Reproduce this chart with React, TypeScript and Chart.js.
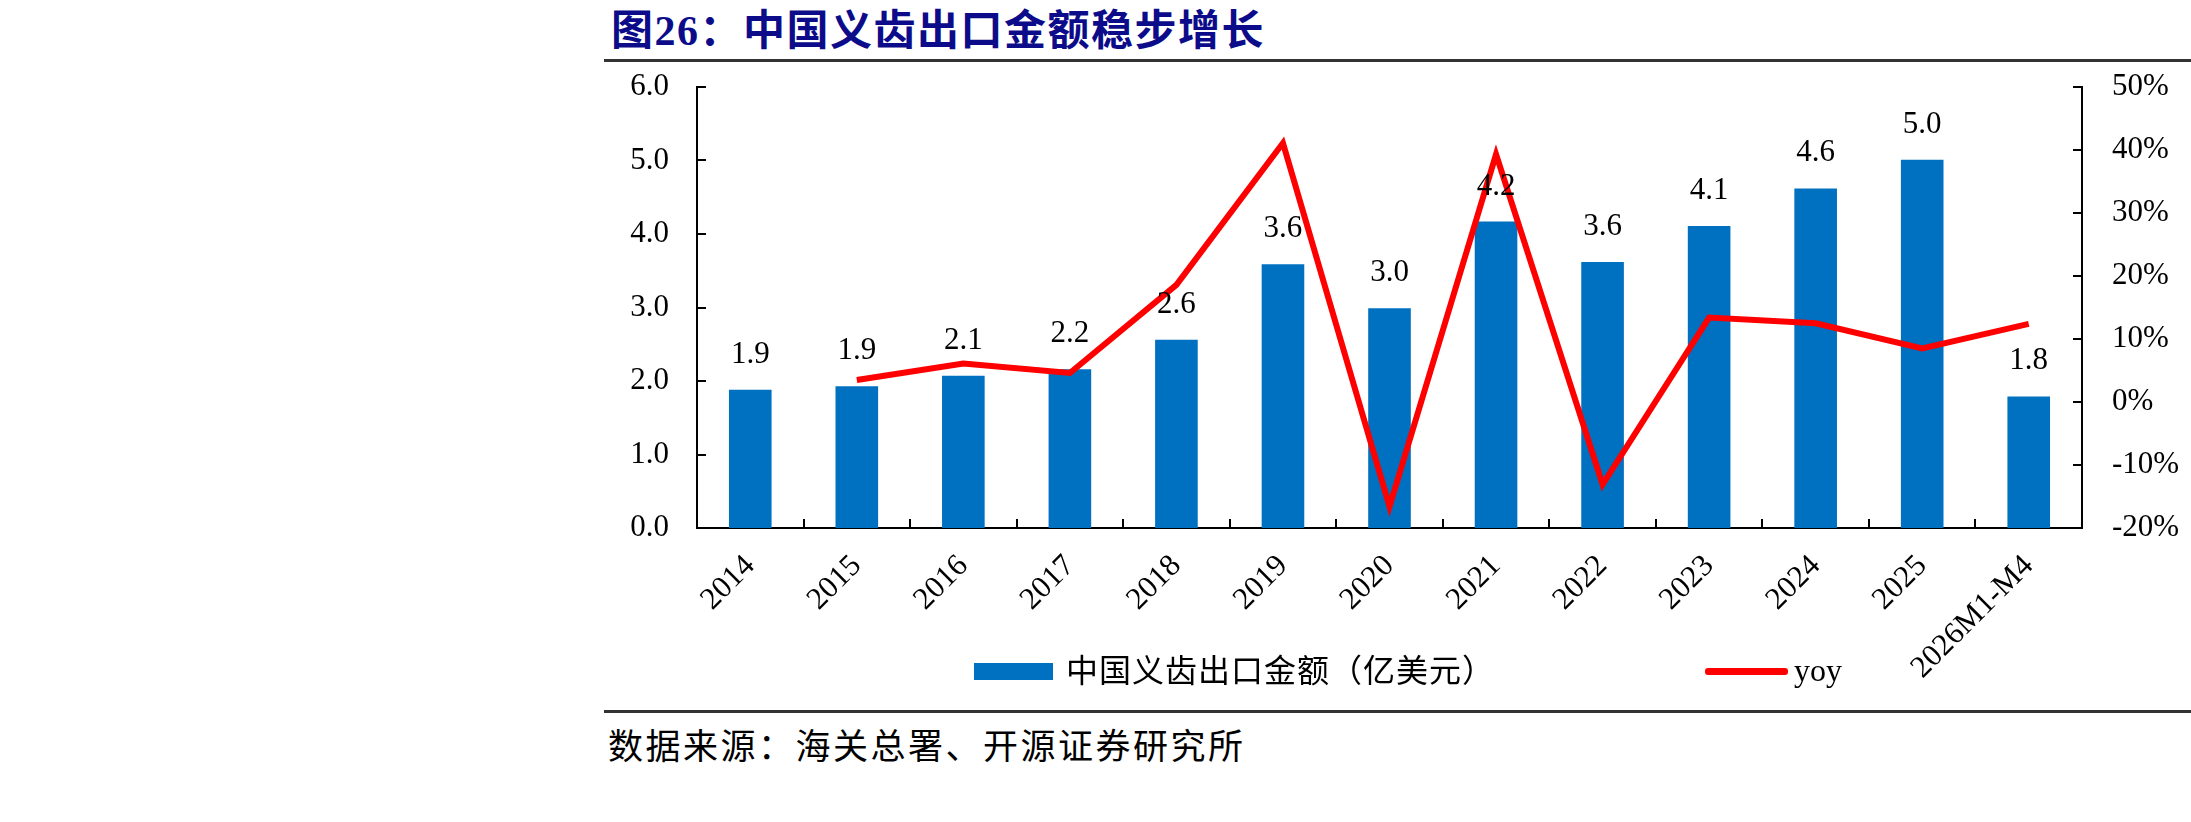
import { useEffect, useRef } from "react";
import Chart from "chart.js/auto";

const years = ["2014", "2015", "2016", "2017", "2018", "2019", "2020", "2021", "2022", "2023", "2024", "2025", "2026M1-M4"];
// 中国义齿出口金额（亿美元）
const exportValues = [1.88, 1.93, 2.07, 2.16, 2.56, 3.59, 2.99, 4.17, 3.62, 4.11, 4.62, 5.01, 1.79];
// yoy, %
const yoyValues = [null, 3.5, 6.1, 4.6, 18.6, 41.1, -16.6, 39.3, -13.1, 13.4, 12.5, 8.5, 12.4];

const serif = '"Liberation Serif", "Noto Sans CJK SC", serif';
const cjk = '"Liberation Serif", "Noto Sans CJK SC", sans-serif';

// inward tick marks, like the excel original
const tickMarks = {
  id: "tickMarks",
  afterDatasetsDraw(chart: any) {
    const { ctx, chartArea, scales } = chart;
    const len = 9;
    ctx.save();
    ctx.strokeStyle = "#000";
    ctx.lineWidth = 2;
    ctx.beginPath();
    scales.y.ticks.forEach((t: any) => {
      const y = Math.round(scales.y.getPixelForValue(t.value));
      ctx.moveTo(chartArea.left, y);
      ctx.lineTo(chartArea.left + len, y);
    });
    scales.y1.ticks.forEach((t: any) => {
      const y = Math.round(scales.y1.getPixelForValue(t.value));
      ctx.moveTo(chartArea.right, y);
      ctx.lineTo(chartArea.right - len, y);
    });
    const n = scales.x.ticks.length;
    for (let i = 0; i < n - 1; i++) {
      const x = Math.round((scales.x.getPixelForTick(i) + scales.x.getPixelForTick(i + 1)) / 2);
      ctx.moveTo(x, chartArea.bottom);
      ctx.lineTo(x, chartArea.bottom - len);
    }
    ctx.stroke();
    ctx.restore();
  },
};

// value labels above the bars
const barLabels = {
  id: "barLabels",
  afterDatasetsDraw(chart: any) {
    const { ctx } = chart;
    const meta = chart.getDatasetMeta(0);
    ctx.save();
    ctx.fillStyle = "#000";
    ctx.font = `31px ${serif}`;
    ctx.textAlign = "center";
    ctx.textBaseline = "alphabetic";
    meta.data.forEach((bar: any, i: number) => {
      ctx.fillText(exportValues[i].toFixed(1), bar.x, bar.y - 27);
    });
    ctx.restore();
  },
};

// keep the label padding from shrinking the plot vertically
const noEdgePadding = (s: any) => {
  s.paddingTop = 0;
  s.paddingBottom = 0;
};

export default function App() {
  const chartRef = useRef<HTMLCanvasElement>(null);
  const chartInstanceRef = useRef<Chart | null>(null);

  useEffect(() => {
    if (!chartRef.current) return;
    if (chartInstanceRef.current) {
      chartInstanceRef.current.destroy();
    }
    const ctx = chartRef.current.getContext("2d");
    if (!ctx) return;

    chartInstanceRef.current = new Chart(ctx, {
      type: "bar",
      data: {
        labels: years,
        datasets: [
          {
            type: "bar",
            label: "中国义齿出口金额（亿美元）",
            data: exportValues,
            backgroundColor: "#0070C0",
            yAxisID: "y",
            barPercentage: 0.4,
            categoryPercentage: 1,
            order: 2,
          },
          {
            type: "line",
            label: "yoy",
            data: yoyValues,
            borderColor: "#FF0000",
            borderWidth: 6,
            pointRadius: 0,
            tension: 0,
            yAxisID: "y1",
            order: 1,
          } as any,
        ],
      },
      options: {
        responsive: false,
        animation: false,
        layout: { padding: { top: 17, left: 0, right: 0, bottom: 0 } },
        plugins: {
          legend: { display: false },
          tooltip: { enabled: false },
        },
        scales: {
          x: {
            grid: { display: false, drawTicks: false },
            border: { display: true, color: "#000", width: 2 },
            ticks: {
              color: "#000",
              font: { family: serif, size: 31 },
              minRotation: 45,
              maxRotation: 45,
              autoSkip: false,
              padding: 20,
            },
            afterFit: (s: any) => {
              s.height = 172;
            },
          },
          y: {
            position: "left",
            min: 0,
            max: 6,
            grid: { display: false, drawTicks: false },
            border: { display: true, color: "#000", width: 2 },
            ticks: {
              stepSize: 1,
              color: "#000",
              font: { family: serif, size: 31 },
              padding: 28,
              callback: (v: any) => Number(v).toFixed(1),
            },
            afterFit: (s: any) => {
              s.width = 97;
              noEdgePadding(s);
            },
          },
          y1: {
            position: "right",
            min: -20,
            max: 50,
            grid: { display: false, drawTicks: false },
            border: { display: true, color: "#000", width: 2 },
            ticks: {
              stepSize: 10,
              color: "#000",
              font: { family: serif, size: 31 },
              padding: 30,
              callback: (v: any) => `${v}%`,
            },
            afterFit: (s: any) => {
              s.width = 109;
              noEdgePadding(s);
            },
          },
        },
      },
      plugins: [tickMarks, barLabels],
    });

    return () => {
      if (chartInstanceRef.current) {
        chartInstanceRef.current.destroy();
        chartInstanceRef.current = null;
      }
    };
  }, []);

  return (
    <div style={{ position: "absolute", left: 0, top: 0, width: 2191, height: 822, background: "#fff", overflow: "hidden" }}>
      <div
        style={{
          position: "absolute",
          left: 611,
          top: 9,
          fontFamily: cjk,
          fontWeight: "bold",
          fontSize: 42,
          letterSpacing: 1.5,
          lineHeight: "44px",
          color: "#0c0c8a",
          whiteSpace: "nowrap",
        }}
      >
        图26：中国义齿出口金额稳步增长
      </div>
      <div style={{ position: "absolute", left: 604, top: 59, width: 1587, height: 3, background: "#333" }} />

      <div style={{ position: "absolute", left: 600, top: 70, width: 1591, height: 630 }}>
        <canvas ref={chartRef} width={1591} height={630} style={{ width: 1591, height: 630, display: "block" }} />
      </div>

      {/* legend */}
      <div style={{ position: "absolute", left: 974, top: 663, width: 79, height: 17, background: "#0070C0" }} />
      <div
        style={{
          position: "absolute",
          left: 1066,
          top: 652,
          fontFamily: cjk,
          fontSize: 32,
          letterSpacing: 1,
          lineHeight: "38px",
          color: "#000",
          whiteSpace: "nowrap",
        }}
      >
        中国义齿出口金额（亿美元）
      </div>
      <div style={{ position: "absolute", left: 1705, top: 668, width: 83, height: 7, background: "#FF0000", borderRadius: 3 }} />
      <div
        style={{
          position: "absolute",
          left: 1794,
          top: 651,
          fontFamily: serif,
          fontSize: 32,
          lineHeight: "38px",
          color: "#000",
        }}
      >
        yoy
      </div>

      <div style={{ position: "absolute", left: 604, top: 710, width: 1587, height: 3, background: "#333" }} />
      <div
        style={{
          position: "absolute",
          left: 608,
          top: 728,
          fontFamily: cjk,
          fontSize: 35,
          letterSpacing: 2.5,
          lineHeight: "40px",
          color: "#000",
          whiteSpace: "nowrap",
        }}
      >
        数据来源：海关总署、开源证券研究所
      </div>
    </div>
  );
}
